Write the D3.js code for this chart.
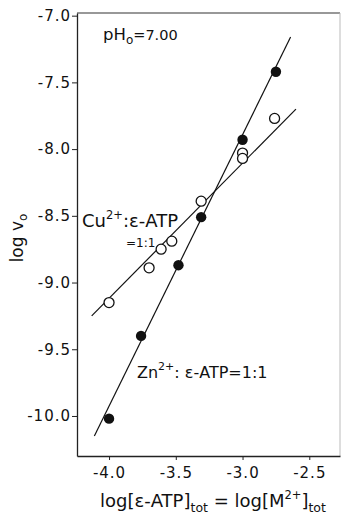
<!DOCTYPE html>
<html>
<head>
<meta charset="utf-8">
<script src="https://cdn.jsdelivr.net/npm/d3@7"></script>
<style>
  body { margin: 0; background: #fff; }
  text { font-family: "DejaVu Sans", sans-serif; fill: #111; }
</style>
</head>
<body>
<div id="chart"></div>
<script>
// data
const xTicks = [-4.0, -3.5, -3.0, -2.5];
const yTicks = [-7.0, -7.5, -8.0, -8.5, -9.0, -9.5, -10.0];

const cuX = [-4.0, -3.70, -3.61, -3.53, -3.31, -3.0, -3.0, -2.76];
const cuY = [-9.15, -8.89, -8.75, -8.69, -8.39, -8.03, -8.07, -7.77];
const znX = [-4.0, -3.76, -3.48, -3.31, -3.0, -2.75];
const znY = [-10.02, -9.40, -8.87, -8.51, -7.93, -7.42];

// fitted lines (end points)
const cuLineX = [-4.13, -2.60];
const cuLineY = [-9.25, -7.70];
const znLineX = [-4.11, -2.64];
const znLineY = [-10.15, -7.16];

const W = 341, H = 515;
const pL = 77, pR = 340, pT = 13, pB = 456;

const svg = d3.select("#chart").append("svg")
    .attr("width", W)
    .attr("height", H);

const x = d3.scaleLinear().domain([-4.24, -2.27]).range([pL, pR]);
const y = d3.scaleLinear().domain([-6.98, -10.30]).range([pT, pB]);

// frame (top and right faint)
svg.append("line")
    .attr("x1", pL).attr("x2", pR).attr("y1", pT).attr("y2", pT)
    .attr("stroke", "#333").attr("stroke-width", 1.2);
svg.append("line")
    .attr("x1", pR).attr("x2", pR).attr("y1", pT).attr("y2", pB)
    .attr("stroke", "#bbb").attr("stroke-width", 1);

// axes
const fmt = d => d3.format(".1f")(d).replace("−", "-");
const xAxis = svg.append("g")
    .attr("transform", `translate(0,${pB})`)
    .call(d3.axisBottom(x).tickValues(xTicks).tickSize(4).tickSizeOuter(0));
const yAxis = svg.append("g")
    .attr("transform", `translate(${pL},0)`)
    .call(d3.axisLeft(y).tickValues(yTicks).tickSize(5).tickSizeOuter(0));

[xAxis, yAxis].forEach(g => {
    g.select(".domain").attr("stroke", "#222").attr("stroke-width", 1.3);
    g.selectAll(".tick line").attr("stroke", "#222").attr("stroke-width", 1);
    g.selectAll(".tick text")
        .attr("font-size", 15)
        .attr("font-family", "DejaVu Sans, sans-serif")
        .attr("letter-spacing", 1)
        .attr("fill", "#111")
        .text(fmt);
});
xAxis.selectAll(".tick text").attr("y", 11).attr("dy", "0.72em");
yAxis.selectAll(".tick text").attr("x", -6);

// fitted lines
const line = d3.line().x(d => x(d[0])).y(d => y(d[1]));
[[cuLineX, cuLineY], [znLineX, znLineY]].forEach(([lx, ly]) => {
    svg.append("path")
        .attr("d", line(d3.zip(lx, ly)))
        .attr("fill", "none")
        .attr("stroke", "#111")
        .attr("stroke-width", 1.2);
});

// Cu2+ points (open)
svg.append("g").selectAll("circle")
    .data(d3.zip(cuX, cuY))
    .enter().append("circle")
    .attr("cx", d => x(d[0]))
    .attr("cy", d => y(d[1]))
    .attr("r", 5)
    .attr("fill", "#fff")
    .attr("stroke", "#111")
    .attr("stroke-width", 1.3);

// Zn2+ points (filled)
svg.append("g").selectAll("circle")
    .data(d3.zip(znX, znY))
    .enter().append("circle")
    .attr("cx", d => x(d[0]))
    .attr("cy", d => y(d[1]))
    .attr("r", 5.2)
    .attr("fill", "#111");

// annotations
const ph = svg.append("text").attr("x", 103).attr("y", 40).attr("font-size", 16.5);
ph.append("tspan").text("pH");
ph.append("tspan").attr("font-size", 12).attr("dy", 4).text("o");
ph.append("tspan").attr("dy", -4).attr("font-size", 14.5).text("=7.00");

const cu = svg.append("text").attr("x", 82).attr("y", 227).attr("font-size", 18);
cu.append("tspan").text("Cu");
cu.append("tspan").attr("font-size", 11.5).attr("dy", -8).text("2+");
cu.append("tspan").attr("dy", 8).text(":ε-ATP");
svg.append("text").attr("x", 126).attr("y", 247).attr("font-size", 12).text("=1:1");

const zn = svg.append("text").attr("x", 137).attr("y", 378).attr("font-size", 16);
zn.append("tspan").text("Zn");
zn.append("tspan").attr("font-size", 11).attr("dy", -8).text("2+");
zn.append("tspan").attr("dy", 8).text(": ε-ATP=1:1");

// axis titles
const yl = svg.append("text")
    .attr("transform", "translate(23,238) rotate(-90)")
    .attr("text-anchor", "middle")
    .attr("font-size", 17);
yl.append("tspan").text("log v");
yl.append("tspan").attr("font-size", 12).attr("dy", 4).text("o");

const xl = svg.append("text").attr("x", 100).attr("y", 507).attr("font-size", 18);
xl.append("tspan").text("log[ε-ATP]");
xl.append("tspan").attr("font-size", 12.5).attr("dy", 5).text("tot");
xl.append("tspan").attr("dy", -5).text(" = log[M");
xl.append("tspan").attr("font-size", 11.5).attr("dy", -8).text("2+");
xl.append("tspan").attr("dy", 8).text("]");
xl.append("tspan").attr("font-size", 12.5).attr("dy", 5).text("tot");
</script>
</body>
</html>
